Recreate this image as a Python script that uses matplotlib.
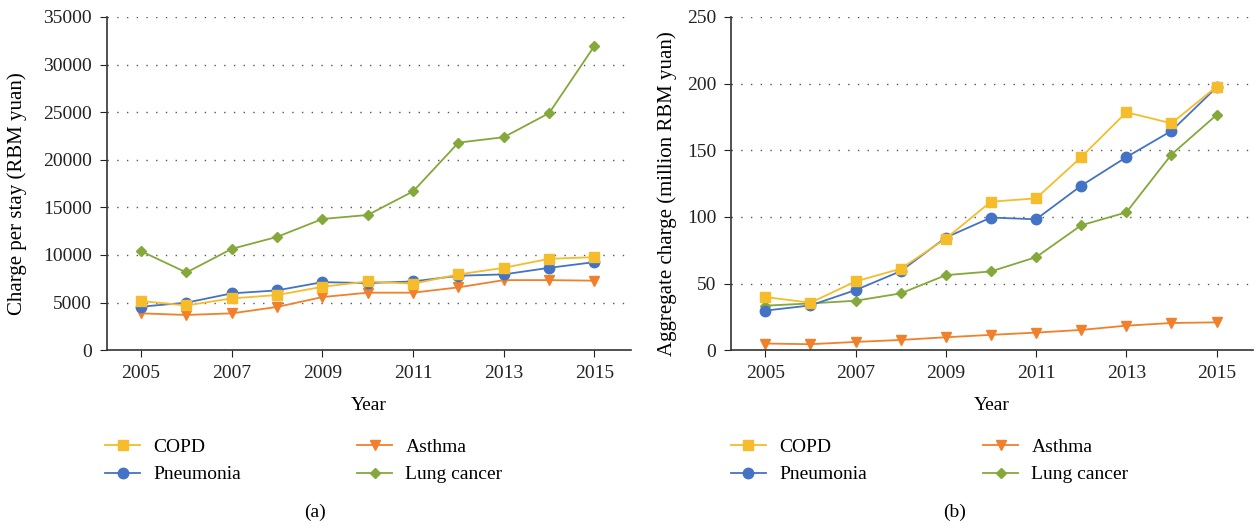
import numpy as np
import matplotlib
matplotlib.use('Agg')
import matplotlib.pyplot as plt

plt.rcParams['font.family'] = ['Liberation Serif', 'DejaVu Serif']

# data
years = [2005, 2006, 2007, 2008, 2009, 2010, 2011, 2012, 2013, 2014, 2015]

stay_copd = [5160, 4700, 5440, 5790, 6660, 7220, 6980, 7960, 8650, 9600, 9770]
stay_pneumonia = [4570, 4990, 5970, 6280, 7150, 7050, 7220, 7820, 7960, 8650, 9250]
stay_asthma = [3870, 3700, 3870, 4540, 5580, 6040, 6040, 6600, 7360, 7360, 7300]
stay_lung = [10400, 8160, 10640, 11900, 13780, 14200, 16680, 21800, 22370, 24900, 31960]

agg_copd = [39.9, 35.6, 51.6, 61.1, 83.7, 111.4, 113.9, 144.8, 178.5, 170.2, 197.7]
agg_pneumonia = [29.7, 33.6, 45.1, 59.3, 84.5, 99.5, 98.2, 123.4, 144.8, 164.5, 197.2]
agg_asthma = [5.0, 4.5, 6.2, 7.7, 9.7, 11.5, 13.2, 15.2, 18.4, 20.4, 20.9]
agg_lung = [33.4, 35.1, 37.1, 42.6, 56.3, 59.1, 69.8, 93.7, 103.4, 146.8, 176.5]

labels = ['COPD', 'Pneumonia', 'Asthma', 'Lung cancer']
colors = ['#F5BC2C', '#4472C4', '#F0802C', '#84A83A']
markers = ['s', 'o', 'v', 'D']
msizes = [7.5, 7.5, 7.5, 5.5]

fig = plt.figure(figsize=(12.59, 5.29), dpi=100)
ax1 = fig.add_axes([0.085, 0.338, 0.416, 0.630])
ax2 = fig.add_axes([0.581, 0.338, 0.414, 0.630])

panels = [
    (ax1, [stay_copd, stay_pneumonia, stay_asthma, stay_lung], 35000, 5000,
     'Charge per stay (RBM yuan)', '(a)', 0.0834, 0.250, -0.153),
    (ax2, [agg_copd, agg_pneumonia, agg_asthma, agg_lung], 250, 50,
     'Aggregate charge (million RBM yuan)', '(b)', 0.5806, 0.7585, -0.104),
]

for ax, series, ymax, ystep, ylab, cap, legx, capx, ylx in panels:
    handles = []
    # draw lung cancer first so the others sit on top
    for i in [3, 2, 1, 0]:
        h, = ax.plot(years, series[i], color=colors[i], marker=markers[i],
                     markersize=msizes[i], linewidth=1.3, label=labels[i])
        handles.append(h)
    handles = handles[::-1]
    ax.set_xlim(2004.25, 2015.8)
    ax.set_ylim(0, ymax)
    ax.set_xticks([2005, 2007, 2009, 2011, 2013, 2015])
    ax.set_yticks(np.arange(0, ymax + 1, ystep))
    ax.yaxis.grid(True, linestyle=(0, (1, 6)), color='#555555', linewidth=1)
    ax.set_axisbelow(True)
    for s in ['top', 'right']:
        ax.spines[s].set_visible(False)
    for s in ['left', 'bottom']:
        ax.spines[s].set_color('#333333')
        ax.spines[s].set_linewidth(1.2)
    ax.tick_params(labelsize=14, colors='#222222', length=5, pad=6)
    ax.set_xlabel('Year', fontsize=14)
    ax.set_ylabel(ylab, fontsize=15)
    ax.xaxis.set_label_coords(0.5, -0.14)
    ax.yaxis.set_label_coords(ylx, 0.47)
    fig.legend(handles=handles, labels=labels, ncol=2, loc='upper left',
               bbox_to_anchor=(legx, 0.171), frameon=False, fontsize=14,
               handlelength=1.8, handletextpad=0.67, columnspacing=6.0,
               labelspacing=0.5, borderaxespad=0, borderpad=0)
    fig.text(capx, 0.032, cap, ha='center', va='center', fontsize=14)

fig.savefig('out.png', dpi=100)
